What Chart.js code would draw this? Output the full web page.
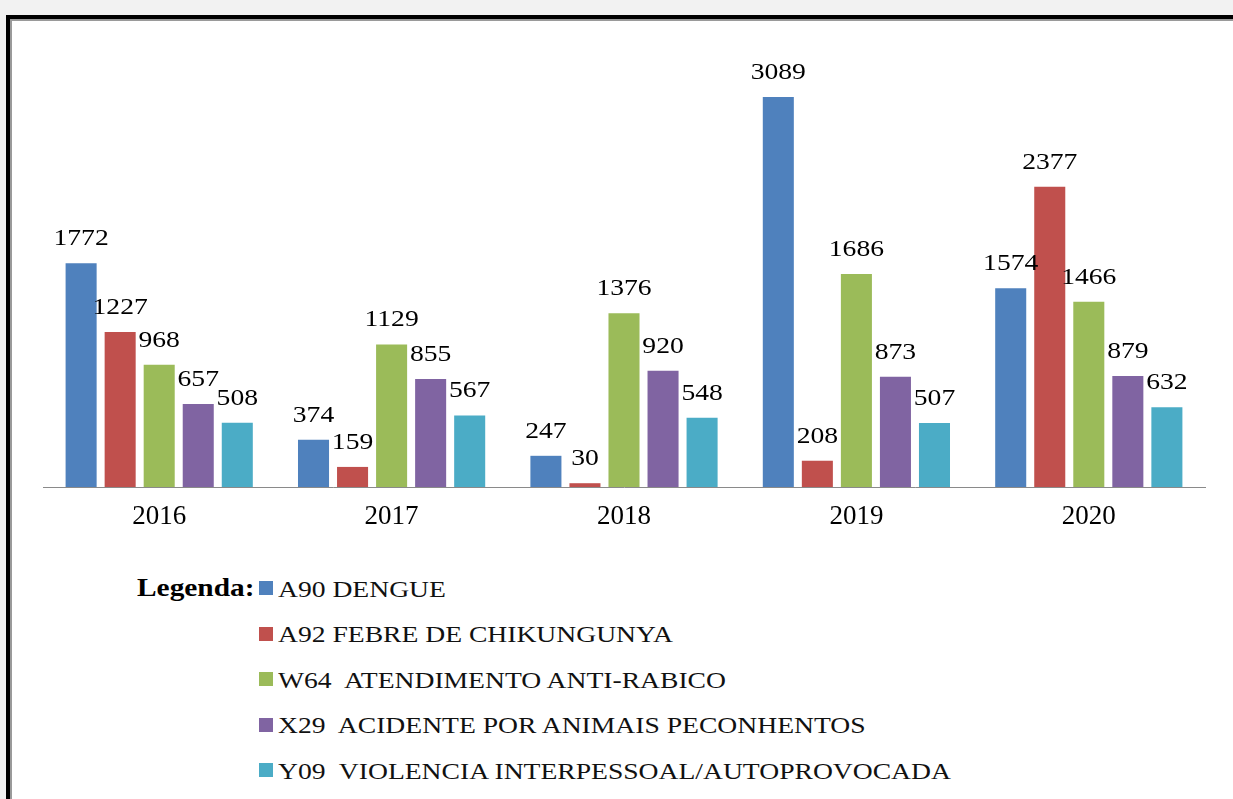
<!DOCTYPE html>
<html>
<head>
<meta charset="utf-8">
<script src="https://cdn.jsdelivr.net/npm/chart.js@4.4.0/dist/chart.umd.min.js"></script>
<style>
  body { margin: 0; background: #f2f2f2; width: 1233px; height: 799px; overflow: hidden; position: relative; }
  .frame { position: absolute; left: 6px; top: 15px; width: 1260px; height: 820px; border-left: 4px solid #000; border-top: 4px solid #000; background: #fff; }
  .frame-inner { position: absolute; left: 0; top: 0; right: 0; bottom: 0; border-left: 2px solid #9a9a9a; border-top: 2px solid #9a9a9a; }
  #wrap { position: absolute; left: 13px; top: 21px; width: 1220px; height: 540px; }
  .legend-title { position: absolute; font-family: "Liberation Serif", "Times New Roman", serif; font-weight: bold; font-size: 26px; line-height: 26px; transform: scaleX(1.13); transform-origin: left; white-space: pre; }
  .legend-box { position: absolute; width: 14px; height: 14px; }
  .legend-text { position: absolute; font-family: "Liberation Serif", "Times New Roman", serif; font-size: 24px; line-height: 24px; transform: scaleX(1.15); transform-origin: left; white-space: pre; color: #111; }
</style>
</head>
<body>
<div class="frame"><div class="frame-inner"></div></div>
<div id="wrap"><canvas id="chart"></canvas></div>
<div id="legend"></div>
<script>
const years = ['2016', '2017', '2018', '2019', '2020'];
const dengue = [1772, 374, 247, 3089, 1574];
const chikungunya = [1227, 159, 30, 208, 2377];
const antiRabico = [968, 1129, 1376, 1686, 1466];
const peconhentos = [657, 855, 920, 873, 879];
const violencia = [508, 567, 548, 507, 632];

const seriesNames = [
  'A90 DENGUE',
  'A92 FEBRE DE CHIKUNGUNYA',
  'W64  ATENDIMENTO ANTI-RABICO',
  'X29  ACIDENTE POR ANIMAIS PECONHENTOS',
  'Y09  VIOLENCIA INTERPESSOAL/AUTOPROVOCADA'
];
const seriesData = [dengue, chikungunya, antiRabico, peconhentos, violencia];
const colors = ['#4f81bd', '#c0504d', '#9bbb59', '#8064a2', '#4bacc6'];

// value labels above each bar
const barLabels = {
  id: 'barLabels',
  afterDatasetsDraw(chart) {
    const ctx = chart.ctx;
    ctx.save();
    ctx.fillStyle = '#000';
    ctx.font = '24px "Liberation Serif", "Times New Roman", serif';
    ctx.textAlign = 'center';
    ctx.textBaseline = 'alphabetic';
    chart.data.datasets.forEach((ds, i) => {
      chart.getDatasetMeta(i).data.forEach((bar, j) => {
        ctx.save();
        ctx.translate(bar.x, bar.y - 18);
        ctx.scale(1.15, 1);
        ctx.fillText(String(ds.data[j]), 0, 0);
        ctx.restore();
      });
    });
    ctx.restore();
  }
};

const ctx = document.getElementById('chart').getContext('2d');
new Chart(ctx, {
  type: 'bar',
  data: {
    labels: years,
    datasets: seriesData.map((d, i) => ({
      label: seriesNames[i],
      data: d,
      backgroundColor: colors[i],
      borderWidth: 0,
      barPercentage: 0.795,
      categoryPercentage: 0.84
    }))
  },
  options: {
    responsive: true,
    maintainAspectRatio: false,
    animation: false,
    layout: { padding: { left: 30, right: 28, top: 24, bottom: 21.6 } },
    scales: {
      x: {
        grid: { display: false },
        border: { display: true, color: '#8a8a8a', width: 1 },
        ticks: {
          color: '#000',
          padding: 6,
          font: { family: '"Liberation Serif", "Times New Roman", serif', size: 27 }
        }
      },
      y: { display: false, min: 0, max: 3500 }
    },
    plugins: {
      legend: { display: false },
      tooltip: { enabled: false }
    }
  },
  plugins: [barLabels]
});

// legend block under the chart
const legend = document.getElementById('legend');
const firstBaseline = 596.7;
const rowStep = 45.5;
const title = document.createElement('span');
title.className = 'legend-title';
title.textContent = 'Legenda:';
title.style.left = '137px';
title.style.top = (firstBaseline - 21.5) + 'px';
legend.appendChild(title);
seriesNames.forEach((name, i) => {
  const base = firstBaseline + i * rowStep;
  const box = document.createElement('div');
  box.className = 'legend-box';
  box.style.background = colors[i];
  box.style.left = '259px';
  box.style.top = (base - 15.7) + 'px';
  legend.appendChild(box);
  const txt = document.createElement('span');
  txt.className = 'legend-text';
  txt.textContent = name;
  txt.style.left = '278px';
  txt.style.top = (base - 20.1) + 'px';
  legend.appendChild(txt);
});
</script>
</body>
</html>
